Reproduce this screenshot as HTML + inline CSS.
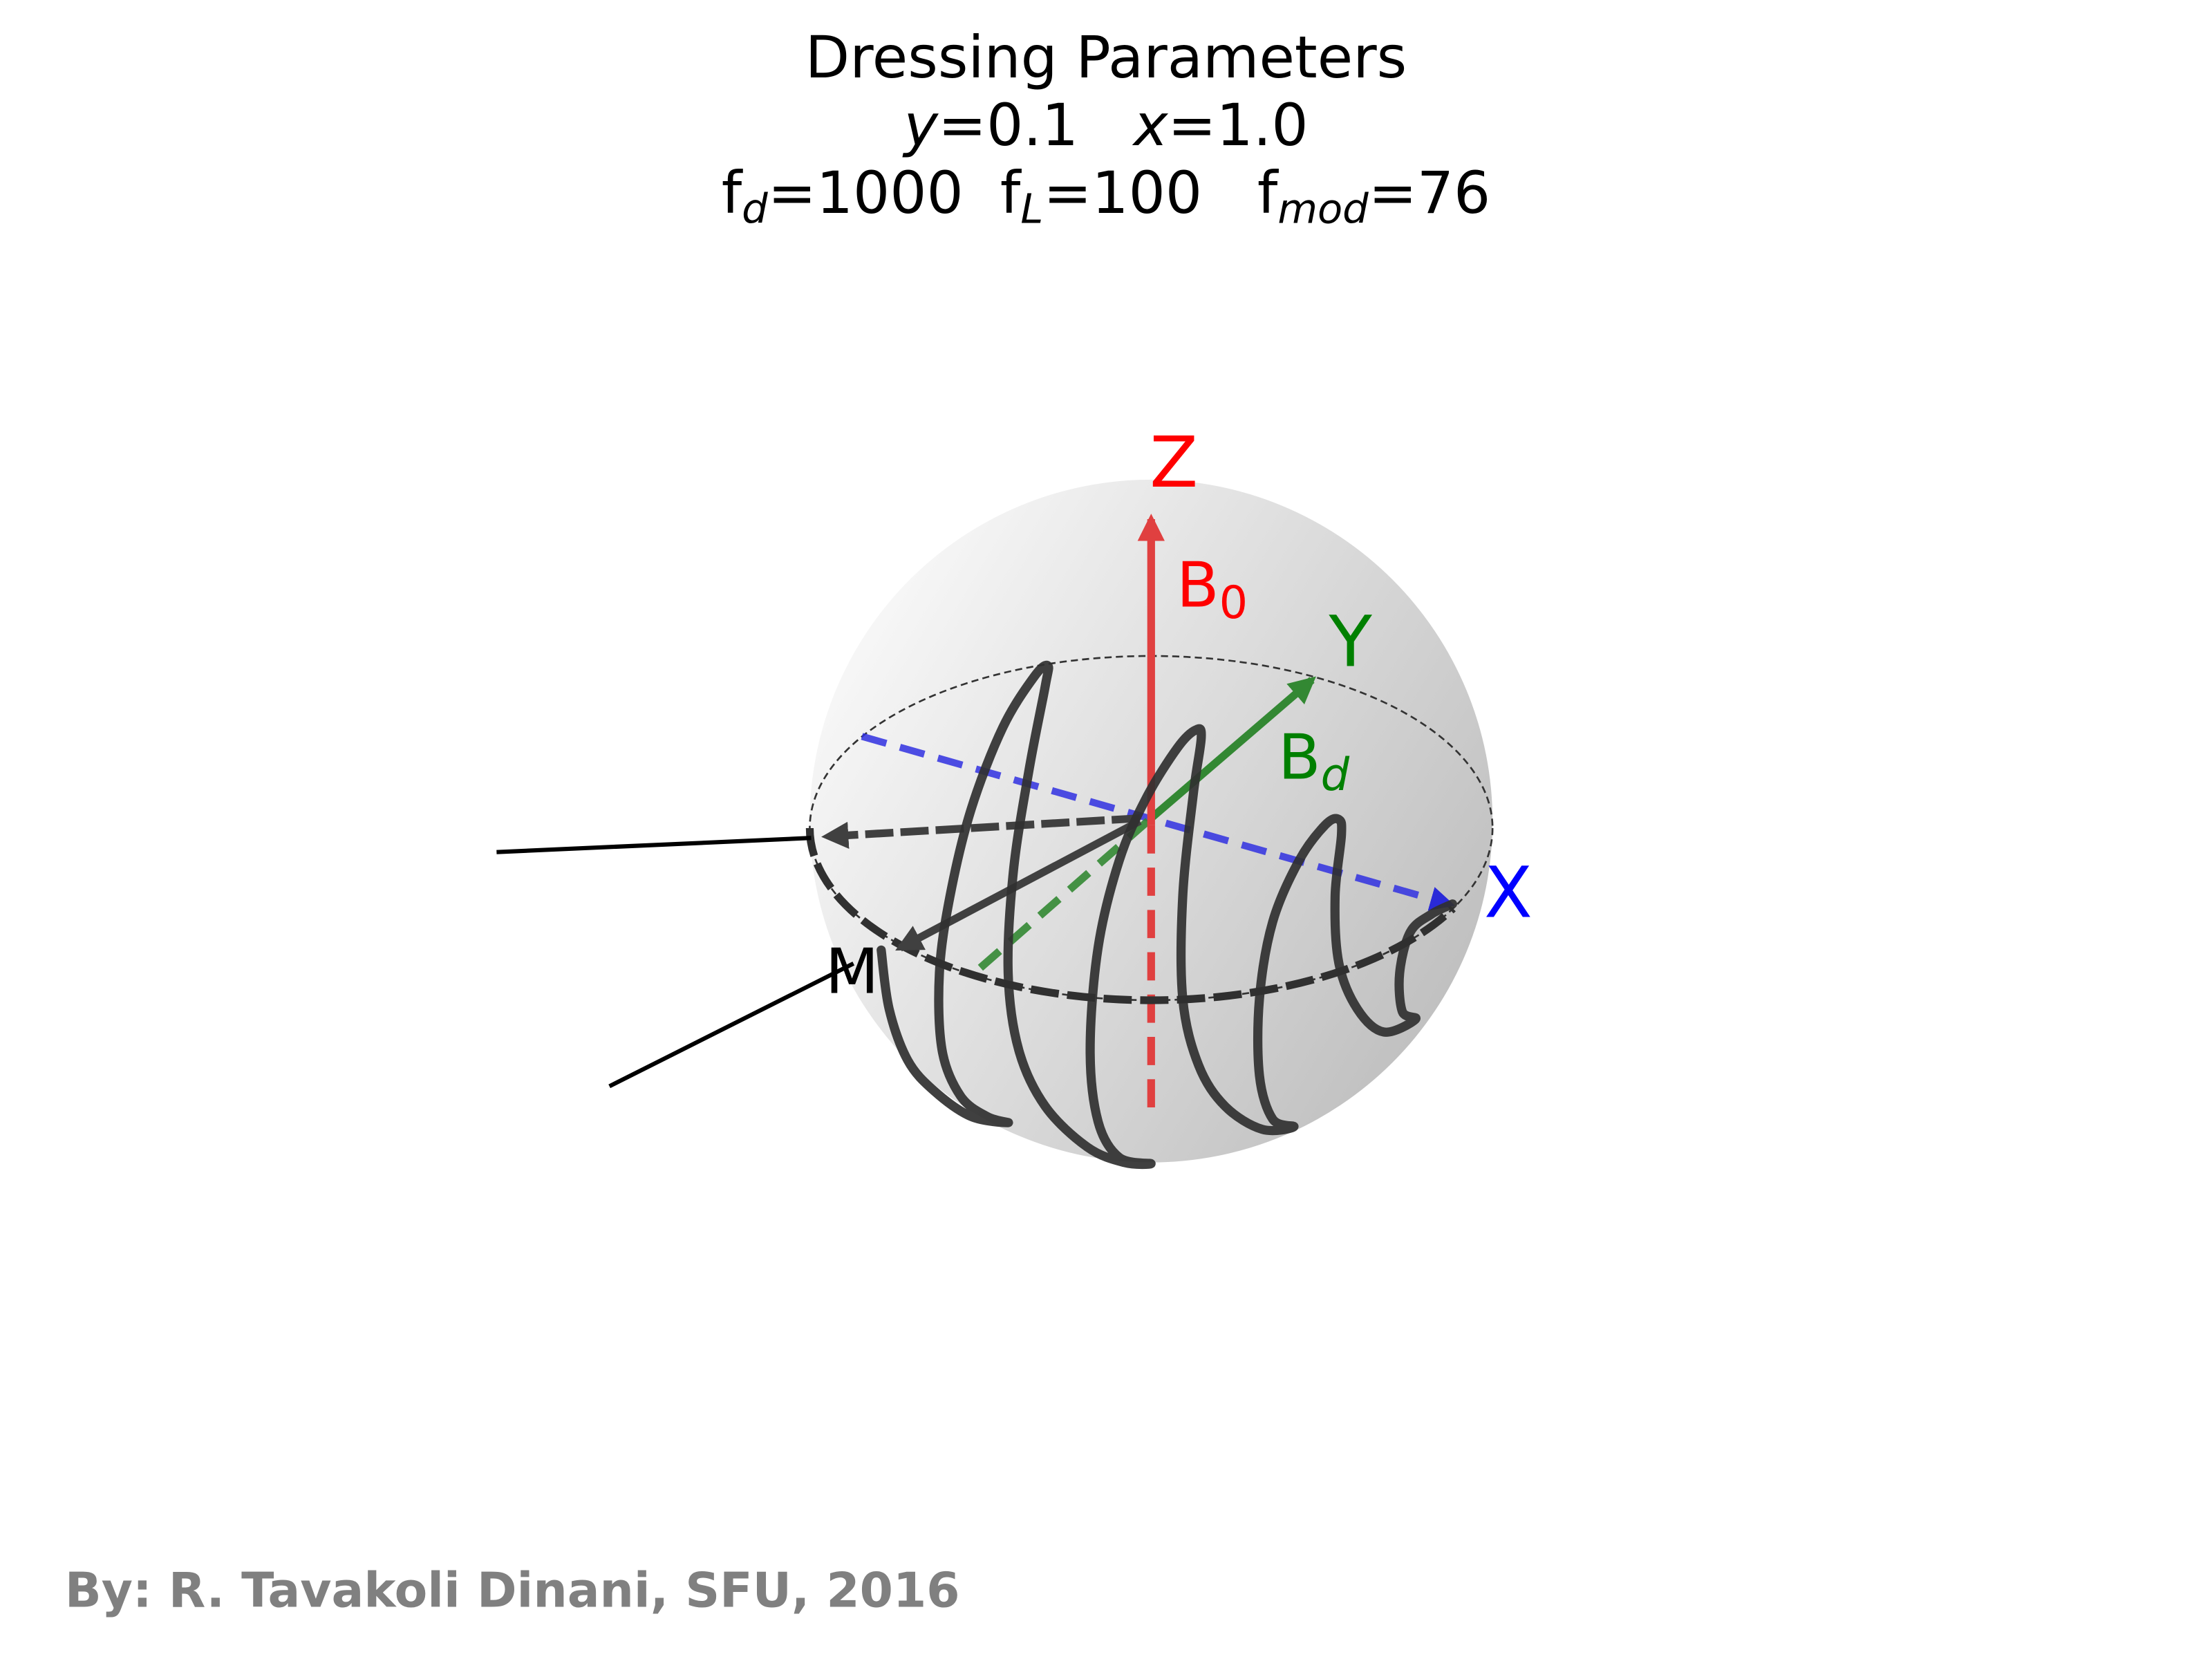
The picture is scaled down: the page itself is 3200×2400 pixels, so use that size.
<!DOCTYPE html>
<html><head><meta charset="utf-8"><style>
html,body{margin:0;padding:0;background:#fff;}
svg{display:block;}
text{font-family:"DejaVu Sans","Liberation Sans",sans-serif;white-space:pre;}
</style></head><body>
<svg id="chart" width="3200" height="2400" viewBox="0 0 1568 1176" xmlns="http://www.w3.org/2000/svg" xml:space="preserve">
<defs>
<linearGradient id="sg" x1="0" y1="0.2" x2="1" y2="0.8">
<stop offset="0" stop-color="#fbfbfb"/><stop offset="1" stop-color="#bcbcbc"/>
</linearGradient>
<marker id="arR" viewBox="0 0 10 10" refX="8" refY="5" markerWidth="3.5" markerHeight="3.5" orient="auto"><path d="M0,0 L10,5 L0,10 z" fill="#e04040"/></marker>
<marker id="arG" viewBox="0 0 10 10" refX="8" refY="5" markerWidth="3.5" markerHeight="3.5" orient="auto"><path d="M0,0 L10,5 L0,10 z" fill="#338833"/></marker>
<marker id="arB" viewBox="0 0 10 10" refX="8" refY="5" markerWidth="3.5" markerHeight="3.5" orient="auto"><path d="M0,0 L10,5 L0,10 z" fill="#2a2ad8"/></marker>
<marker id="arK" viewBox="0 0 10 10" refX="8" refY="5" markerWidth="3.5" markerHeight="3.5" orient="auto"><path d="M0,0 L10,5 L0,10 z" fill="#404040"/></marker>
</defs>
<g font-size="41" text-anchor="middle" fill="#000">
<text x="784" y="55">Dressing Parameters</text>
<text x="784" y="103"><tspan font-style="italic">y</tspan>=0.1   <tspan font-style="italic">x</tspan>=1.0</text>
<text x="784" y="151">f<tspan font-size="29" font-style="italic" dy="7">d</tspan><tspan dy="-7">=1000  f</tspan><tspan font-size="29" font-style="italic" dy="7">L</tspan><tspan dy="-7">=100   f</tspan><tspan font-size="29" font-style="italic" dy="7">mod</tspan><tspan dy="-7">=76</tspan></text>
</g>
<circle cx="816" cy="582" r="242" fill="url(#sg)"/>
<ellipse cx="816" cy="587" rx="242" ry="122" fill="none" stroke="#333" stroke-width="1.3" stroke-dasharray="5,3"/>
<line x1="611" y1="522" x2="1028" y2="641" stroke="#3030e0" stroke-opacity="0.85" stroke-width="5" stroke-dasharray="18,10" marker-end="url(#arB)"/>
<line x1="695" y1="686" x2="816" y2="580" stroke="#338833" stroke-opacity="0.9" stroke-width="5.5" stroke-dasharray="18,10"/>
<line x1="816" y1="580" x2="930" y2="482" stroke="#338833" stroke-width="5.5" marker-end="url(#arG)"/>
<line x1="816" y1="785" x2="816" y2="585" stroke="#e04040" stroke-width="5.5" stroke-dasharray="20,10"/>
<line x1="816" y1="585" x2="816" y2="368" stroke="#e04040" stroke-width="5.5" marker-end="url(#arR)"/>
<path d="M574,587 A242,122 0 0 0 1030,644" fill="none" stroke="#303030" stroke-width="5.5" stroke-dasharray="20,6"/>
<line x1="808" y1="580" x2="586" y2="593" stroke="#404040" stroke-width="5.5" stroke-dasharray="20,5" marker-end="url(#arK)"/>
<line x1="808" y1="582" x2="638" y2="672" stroke="#404040" stroke-width="5.5" marker-end="url(#arK)"/>
<line x1="352" y1="604" x2="575" y2="594" stroke="#000" stroke-width="3"/>
<line x1="432" y1="770" x2="605" y2="683" stroke="#000" stroke-width="3"/>
<path id="spiral" fill="none" stroke="#303030" stroke-opacity="0.92" stroke-width="6.5" stroke-linejoin="round" stroke-linecap="round"/>
<text x="815" y="345" font-size="50" fill="#ff0000">Z</text>
<text x="834" y="430" font-size="44" fill="#ff0000">B<tspan font-size="32" dy="8">0</tspan></text>
<text x="942" y="472" font-size="50" fill="#008000">Y</text>
<text x="906" y="552" font-size="44" fill="#008000">B<tspan font-size="32" font-style="italic" dy="8">d</tspan></text>
<text x="1052" y="650" font-size="50" fill="#0000ff">X</text>
<text x="585" y="704" font-size="44" fill="#000">M</text>
<text x="46" y="1139" font-size="34" font-weight="bold" fill="#808080">By: R. Tavakoli Dinani, SFU, 2016</text>
</svg>
<script>
const traceX = [230,245,280,330,400,470,430,380,345,340,360,400,460,520,545,540,510,480,470,490,540,620,690,740,680,640,625,640,680,730,790,825,835,820,800,800,830,880,950,1010,970,945,945,970,1020,1070,1095,1100,1088,1095,1130,1180,1240,1215,1210,1230,1270,1310];
const traceY = [1055,1170,1270,1330,1380,1392,1380,1340,1250,1100,950,780,620,520,500,540,700,900,1100,1250,1360,1440,1470,1472,1460,1390,1250,1050,880,760,660,625,640,750,950,1150,1280,1360,1405,1400,1385,1300,1150,1000,880,810,800,830,950,1080,1170,1215,1190,1175,1100,1020,985,965];
function sx(v){return 538.4+v*0.375;}
function sy(v){return 290.5+v*0.363;}
const pts = traceX.map((v,i)=>[sx(v),sy(traceY[i])]);
let d = 'M'+pts[0][0]+','+pts[0][1];
for(let i=1;i<pts.length;i++){
  const p0=pts[Math.max(i-2,0)],p1=pts[i-1],p2=pts[i],p3=pts[Math.min(i+1,pts.length-1)];
  const c1x=p1[0]+(p2[0]-p0[0])/6,c1y=p1[1]+(p2[1]-p0[1])/6;
  const c2x=p2[0]-(p3[0]-p1[0])/6,c2y=p2[1]-(p3[1]-p1[1])/6;
  d+=' C'+c1x+','+c1y+' '+c2x+','+c2y+' '+p2[0]+','+p2[1];
}
const sp=document.getElementById('spiral');
sp.setAttribute('d',d);
</script>
</body></html>
